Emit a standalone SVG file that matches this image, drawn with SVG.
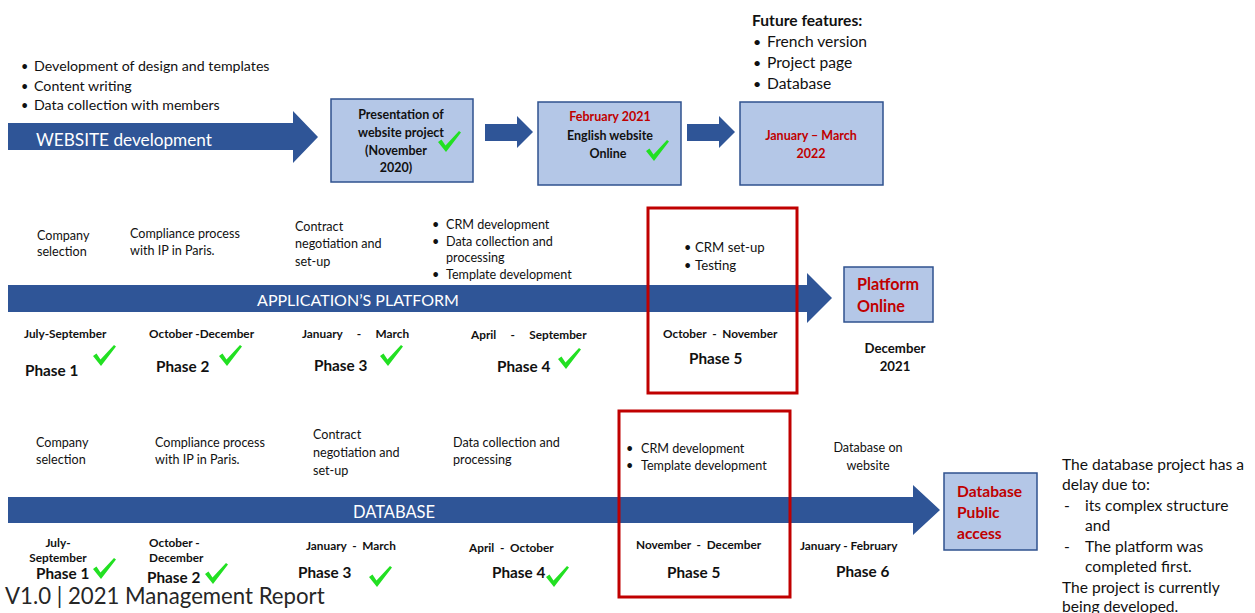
<svg xmlns="http://www.w3.org/2000/svg" width="1255" height="613" viewBox="0 0 1255 613">
<defs>
<style>
text{font-family:Lato,"Liberation Sans",sans-serif;fill:#111}
.t14{font-size:14.2px}
.t12{font-size:12.6px}
.t15{font-size:15.6px}
.b{font-weight:bold}
.b11{font-size:11.8px;font-weight:bold}
.ph{font-size:15.3px;font-weight:bold}
.bx{font-size:12.5px;font-weight:bold}
.red{fill:#C00000}
.wt{fill:#fff;font-size:16.5px}
.box{fill:#B4C7E7;stroke:#2F528F;stroke-width:1.5}
.arr{fill:#2F5597}
.rbox{fill:none;stroke:#C00000;stroke-width:3}
.ck{fill:#22E022}
.mid{text-anchor:middle}
</style>
<path id="check" d="M0,11 L3.5,8.5 L7.5,14.5 L21,0 L23,1.5 L8,21 Z"/>
</defs>
<rect width="1255" height="613" fill="#fff"/>

<g id="connectors">
<path class="arr" d="M8,123 H293 V111 L318,137 L293,163 V150 H8 Z"/>
<path class="arr" d="M485,124 H517 V116 L533,132 L517,148 V141 H485 Z"/>
<path class="arr" d="M687,124 H719 V116 L735,132 L719,148 V141 H687 Z"/>
<path class="arr" d="M8,285 H807 V273 L832,298 L807,323 V312 H8 Z"/>
<path class="arr" d="M8,497 H913 V485 L940,510 L913,535 V523 H8 Z"/>
</g>

<g id="website-tasks">
<text class="t12" x="21" y="71">•</text><text class="t14" x="34" y="71">Development of design and templates</text>
<text class="t12" x="21" y="91">•</text><text class="t14" x="34" y="91">Content writing</text>
<text class="t12" x="21" y="110">•</text><text class="t14" x="34" y="110">Data collection with members</text>
</g>
<g id="website-label"><text class="wt" style="font-size:17.2px" x="36" y="146">WEBSITE development</text></g>

<g id="box-presentation">
<rect class="box" x="331" y="99" width="142" height="83"/>
<text class="bx mid" x="401" y="119">Presentation of</text>
<text class="bx mid" x="401" y="137">website project</text>
<text class="bx mid" x="396" y="155">(November</text>
<text class="bx mid" x="396" y="172">2020)</text>
<use href="#check" class="ck" x="438" y="131"/>
</g>

<g id="box-english">
<rect class="box" x="538" y="102" width="143" height="83"/>
<text class="bx mid red" x="610" y="121">February 2021</text>
<text class="bx mid" x="610" y="140">English website</text>
<text class="bx mid" x="608" y="158">Online</text>
<use href="#check" class="ck" x="646" y="140"/>
</g>

<g id="box-future">
<rect class="box" x="740" y="102" width="143" height="83"/>
<text class="bx mid red" x="811" y="140">January – March</text>
<text class="bx mid red" x="811" y="158">2022</text>
</g>

<g id="future-features">
<text class="b t15" x="752" y="26">Future features:</text>
<text class="t14" x="753" y="47">•</text><text class="t15" x="767" y="47">French version</text>
<text class="t14" x="753" y="68">•</text><text class="t15" x="767" y="68">Project page</text>
<text class="t14" x="753" y="89">•</text><text class="t15" x="767" y="89">Database</text>
</g>

<!-- Application platform row -->
<g id="platform-tasks">
<text class="t12" x="37" y="240">Company</text><text class="t12" x="37" y="256">selection</text>
<text class="t12" x="130" y="238">Compliance process</text><text class="t12" x="130" y="255">with IP in Paris.</text>
<text class="t12" x="295" y="231">Contract</text><text class="t12" x="295" y="248">negotiation and</text><text class="t12" x="295" y="266">set-up</text>
<text class="t12" x="432" y="229">•</text><text class="t12" x="446" y="229">CRM development</text>
<text class="t12" x="432" y="246">•</text><text class="t12" x="446" y="246">Data collection and</text>
<text class="t12" x="446" y="262">processing</text>
<text class="t12" x="432" y="279">•</text><text class="t12" x="446" y="279">Template development</text>
</g>
<g id="platform-label"><text class="wt mid" style="font-size:16px" x="358" y="306">APPLICATION’S PLATFORM</text></g>

<g id="platform-phase1">
<text class="b11" x="24" y="338">July-September</text>
<text class="ph" x="25" y="376">Phase 1</text>
<use href="#check" class="ck" x="93" y="345"/>
</g>
<g id="platform-phase2">
<text class="b11" x="149" y="338">October -December</text>
<text class="ph" x="156" y="372">Phase 2</text>
<use href="#check" class="ck" x="219" y="345"/>
</g>
<g id="platform-phase3">
<text class="b11" x="302" y="338" xml:space="preserve">January     -     March</text>
<text class="ph" x="314" y="371">Phase 3</text>
<use href="#check" class="ck" x="380" y="345"/>
</g>
<g id="platform-phase4">
<text class="b11" x="471" y="339" xml:space="preserve">April     -     September</text>
<text class="ph" x="497" y="372">Phase 4</text>
<use href="#check" class="ck" x="558" y="348"/>
</g>
<g id="platform-phase5">
<rect class="rbox" x="648" y="208" width="149" height="185"/>
<text class="t12" x="684" y="252">•</text><text class="t12" style="font-size:13.2px" x="695" y="252">CRM set-up</text>
<text class="t12" x="684" y="270">•</text><text class="t12" style="font-size:13.2px" x="695" y="270">Testing</text>
<text class="b11" x="663" y="338" xml:space="preserve">October  -  November</text>
<text class="ph" x="689" y="364">Phase 5</text>
</g>
<g id="platform-online">
<rect class="box" x="844" y="267" width="89" height="55"/>
<text class="red b" style="font-size:16.2px" x="857" y="290">Platform</text>
<text class="red b" style="font-size:16.2px" x="857" y="312">Online</text>
<text class="b mid" style="font-size:13.2px" x="895" y="353">December</text>
<text class="b mid" style="font-size:13.2px" x="895" y="371">2021</text>
</g>

<!-- Database row -->
<g id="database-tasks">
<text class="t12" x="36" y="447">Company</text><text class="t12" x="36" y="464">selection</text>
<text class="t12" x="155" y="447">Compliance process</text><text class="t12" x="155" y="464">with IP in Paris.</text>
<text class="t12" x="313" y="439">Contract</text><text class="t12" x="313" y="457">negotiation and</text><text class="t12" x="313" y="475">set-up</text>
<text class="t12" x="453" y="447">Data collection and</text><text class="t12" x="453" y="464">processing</text>
<text class="t12 mid" x="868" y="452">Database on</text><text class="t12 mid" x="868" y="470">website</text>
</g>
<g id="database-label"><text class="wt mid" x="394" y="518">DATABASE</text></g>

<g id="database-phase1">
<text class="b11 mid" x="58" y="547">July-</text>
<text class="b11 mid" x="58" y="562">September</text>
<text class="ph" x="36" y="579">Phase 1</text>
<use href="#check" class="ck" x="93" y="558"/>
</g>
<g id="database-phase2">
<text class="b11" x="149" y="547">October -</text>
<text class="b11" x="149" y="562">December</text>
<text class="ph" x="147" y="583">Phase 2</text>
<use href="#check" class="ck" x="205" y="563"/>
</g>
<g id="database-phase3">
<text class="b11" x="306" y="550" xml:space="preserve">January  -  March</text>
<text class="ph" x="298" y="578">Phase 3</text>
<use href="#check" class="ck" x="369" y="566"/>
</g>
<g id="database-phase4">
<text class="b11" x="469" y="552" xml:space="preserve">April  -  October</text>
<text class="ph" x="492" y="578">Phase 4</text>
<use href="#check" class="ck" x="546" y="566"/>
</g>
<g id="database-phase5">
<rect class="rbox" x="619" y="411" width="171" height="186"/>
<text class="t12" x="626" y="453">•</text><text class="t12" x="641" y="453">CRM development</text>
<text class="t12" x="626" y="470">•</text><text class="t12" x="641" y="470">Template development</text>
<text class="b11" x="636" y="549" xml:space="preserve">November  -  December</text>
<text class="ph" x="667" y="578">Phase 5</text>
</g>
<g id="database-phase6">
<text class="b11" x="800" y="550">January - February</text>
<text class="ph" x="836" y="577">Phase 6</text>
</g>
<g id="database-public">
<rect class="box" x="944" y="473" width="93" height="77"/>
<text class="red b" style="font-size:15.6px" x="957" y="497">Database</text>
<text class="red b" style="font-size:15.6px" x="957" y="518">Public</text>
<text class="red b" style="font-size:15.6px" x="957" y="539">access</text>
</g>

<g id="delay-note">
<text class="t15" x="1062" y="470">The database project has a</text>
<text class="t15" x="1062" y="490">delay due to:</text>
<text class="t15" x="1064" y="511">-</text><text class="t15" x="1085" y="511">its complex structure</text>
<text class="t15" x="1085" y="531">and</text>
<text class="t15" x="1064" y="552">-</text><text class="t15" x="1085" y="552">The platform was</text>
<text class="t15" x="1085" y="572">completed first.</text>
<text class="t15" x="1062" y="593">The project is currently</text>
<text class="t15" x="1062" y="612">being developed.</text>
</g>

<g id="footer"><text style="font-size:22.2px;fill:#262626" x="5" y="604">V1.0 | 2021 Management Report</text></g>
</svg>
